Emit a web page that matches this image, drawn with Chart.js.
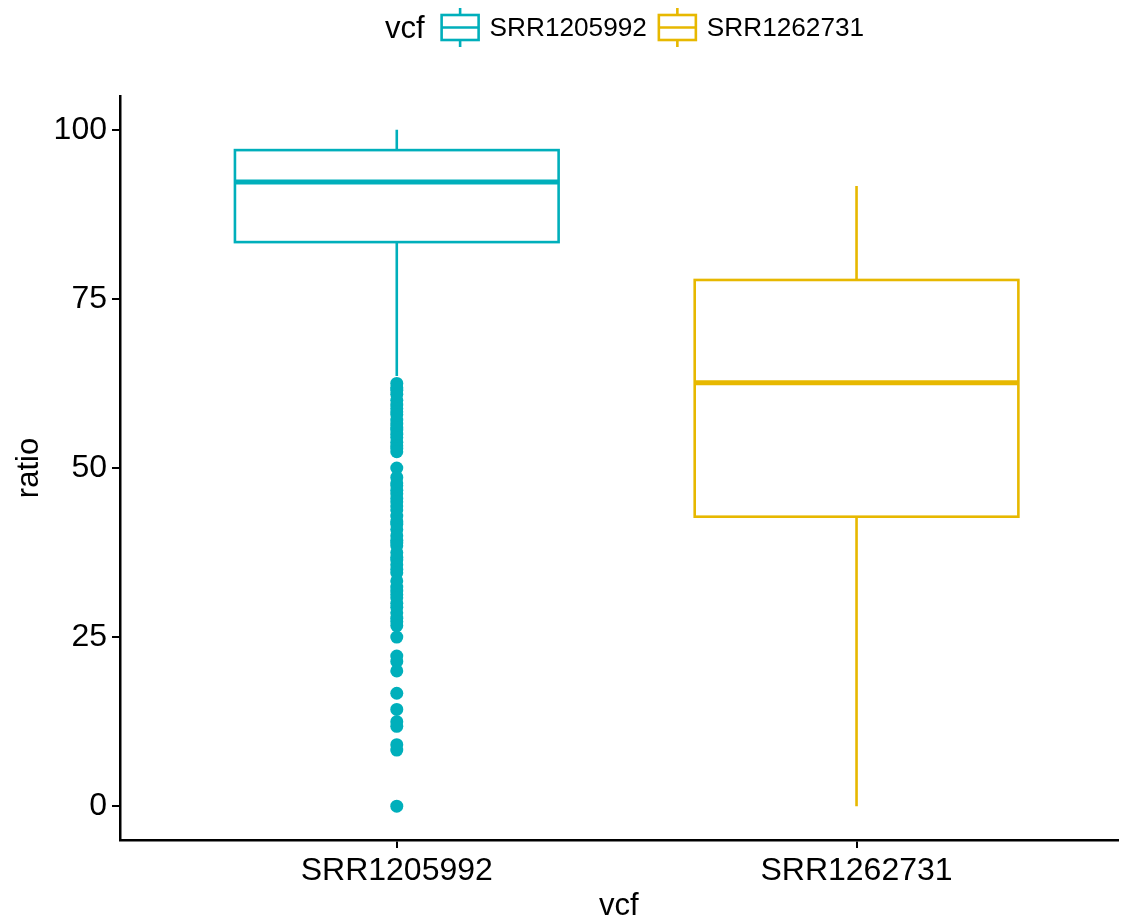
<!DOCTYPE html>
<html>
<head>
<meta charset="utf-8">
<script src="https://cdn.jsdelivr.net/npm/chart.js@4.4.1/dist/chart.umd.min.js"></script>
<style>
  html, body { margin: 0; padding: 0; background: #fff; }
  #wrap { width: 1124px; height: 922px; position: relative; }
</style>
</head>
<body>
<div id="wrap"><canvas id="c" width="1124" height="922"></canvas></div>
<script>
// ---- data ----
const categories = ['SRR1205992', 'SRR1262731'];
const legendTitle = 'vcf';
const xTitle = 'vcf';
const yTitle = 'ratio';
const yTicks = [0, 25, 50, 75, 100];
const lowerWhisker = [63.6, 0];
const q1 = [83.4, 42.8];
const median = [92.3, 62.6];
const q3 = [97.0, 77.8];
const upperWhisker = [100, 91.7];
const outliersSRR1205992 = [62.5, 61.9, 61.5, 60.9, 60.0, 59.3, 58.8, 58.3, 57.9, 57.1, 56.5, 56.0,
  55.6, 55.0, 54.5, 53.8, 53.3, 52.9, 52.4, 50.0, 48.6, 47.8, 47.4, 46.7, 46.2, 45.5, 45.0, 44.4,
  43.8, 42.9, 42.1, 41.7, 40.9, 40.0, 39.3, 38.9, 38.5, 37.5, 36.8, 36.4, 35.7, 35.0, 34.5, 33.3,
  32.4, 31.8, 31.3, 30.8, 30.0, 29.4, 28.6, 27.8, 27.3, 26.7, 25.0, 22.2, 21.4, 20.0, 16.7, 14.3,
  12.5, 11.8, 9.1, 8.3, 0];
const outliersSRR1262731 = [];

// ---- styles ----
const colors = ['#00AFBB', '#E7B800'];
const FONT = "'Liberation Sans', Arial, Helvetica, sans-serif";
const boxHalf = 0.352;

const boxPlugin = {
  id: 'boxes',
  beforeDatasetsDraw(chart) {
    const { ctx, scales: { x, y } } = chart;
    ctx.save();
    categories.forEach((cat, i) => {
      const cx = x.getPixelForValue(i + 1);
      const l = x.getPixelForValue(i + 1 - boxHalf);
      const r = x.getPixelForValue(i + 1 + boxHalf);
      const yq1 = y.getPixelForValue(q1[i]);
      const yq3 = y.getPixelForValue(q3[i]);
      const ym = y.getPixelForValue(median[i]);
      const ylo = y.getPixelForValue(lowerWhisker[i]);
      const yhi = y.getPixelForValue(upperWhisker[i]);
      ctx.strokeStyle = colors[i];
      ctx.lineWidth = 2.6;
      ctx.lineCap = 'butt';
      ctx.beginPath();
      ctx.moveTo(cx, yhi); ctx.lineTo(cx, yq3);
      ctx.moveTo(cx, yq1); ctx.lineTo(cx, ylo);
      ctx.stroke();
      ctx.fillStyle = '#fff';
      ctx.fillRect(l, yq3, r - l, yq1 - yq3);
      ctx.strokeRect(l, yq3, r - l, yq1 - yq3);
      ctx.lineWidth = 5;
      ctx.beginPath();
      ctx.moveTo(l, ym); ctx.lineTo(r, ym);
      ctx.stroke();
    });
    ctx.restore();
  }
};

const legendPlugin = {
  id: 'ggLegend',
  afterDraw(chart) {
    const ctx = chart.ctx;
    ctx.save();
    ctx.textBaseline = 'middle';
    ctx.fillStyle = '#000';
    const cy = 29;
    let xx = 385;
    ctx.font = '31px ' + FONT;
    ctx.fillText(legendTitle, xx, cy);
    xx += ctx.measureText(legendTitle).width + 17;
    ctx.font = '26.2px ' + FONT;
    categories.forEach((cat, i) => {
      const w = 37;
      ctx.strokeStyle = colors[i];
      ctx.lineWidth = 2.6;
      ctx.strokeRect(xx, 15, w, 25);
      ctx.beginPath();
      ctx.moveTo(xx, 27.5); ctx.lineTo(xx + w, 27.5);
      ctx.moveTo(xx + w / 2, 8); ctx.lineTo(xx + w / 2, 15);
      ctx.moveTo(xx + w / 2, 40); ctx.lineTo(xx + w / 2, 47);
      ctx.stroke();
      xx += w + 11;
      ctx.fillStyle = '#000';
      ctx.fillText(cat, xx, cy);
      xx += ctx.measureText(cat).width + 12;
    });
    ctx.restore();
  }
};

const axisCommon = {
  grid: { display: true, drawOnChartArea: false, drawTicks: true, tickLength: 8, color: '#000', lineWidth: 2 },
  border: { display: true, color: '#000', width: 2.5 },
};

new Chart(document.getElementById('c'), {
  type: 'scatter',
  data: {
    datasets: [
      { label: categories[0], data: outliersSRR1205992.map(v => ({ x: 1, y: v })),
        pointRadius: 6.5, pointHoverRadius: 6.5, backgroundColor: colors[0], borderWidth: 0 },
      { label: categories[1], data: outliersSRR1262731.map(v => ({ x: 2, y: v })),
        pointRadius: 6.5, backgroundColor: colors[1], borderWidth: 0 }
    ]
  },
  options: {
    responsive: false,
    animation: false,
    events: [],
    layout: { padding: { top: 96, right: 0, left: 0, bottom: 0 } },
    plugins: { legend: { display: false }, tooltip: { enabled: false } },
    scales: {
      x: {
        type: 'linear', min: 0.398, max: 2.5676,
        afterBuildTicks: (axis) => { axis.ticks = [{ value: 1 }, { value: 2 }]; },
        afterFit: (axis) => { axis.height = 82; axis.paddingRight = 0; axis.paddingLeft = 0; },
        ticks: { autoSkip: false, maxRotation: 0, padding: 4, color: '#000',
          font: { family: FONT, size: 32 }, callback: (v) => categories[v - 1] },
        title: { display: true, text: xTitle, color: '#000', font: { family: FONT, size: 31, lineHeight: 1.0 },
          padding: { top: 0, bottom: 0 } },
        ...axisCommon
      },
      y: {
        type: 'linear', min: -5, max: 105,
        afterBuildTicks: (axis) => { axis.ticks = yTicks.map(v => ({ value: v })); },
        afterFit: (axis) => { axis.width = 120; },
        ticks: { autoSkip: false, padding: 5, color: '#000', font: { family: FONT, size: 32 } },
        title: { display: true, text: yTitle, color: '#000', font: { family: FONT, size: 31 },
          padding: { top: 11, bottom: 0 } },
        ...axisCommon
      }
    }
  },
  plugins: [boxPlugin, legendPlugin]
});
</script>
</body>
</html>
